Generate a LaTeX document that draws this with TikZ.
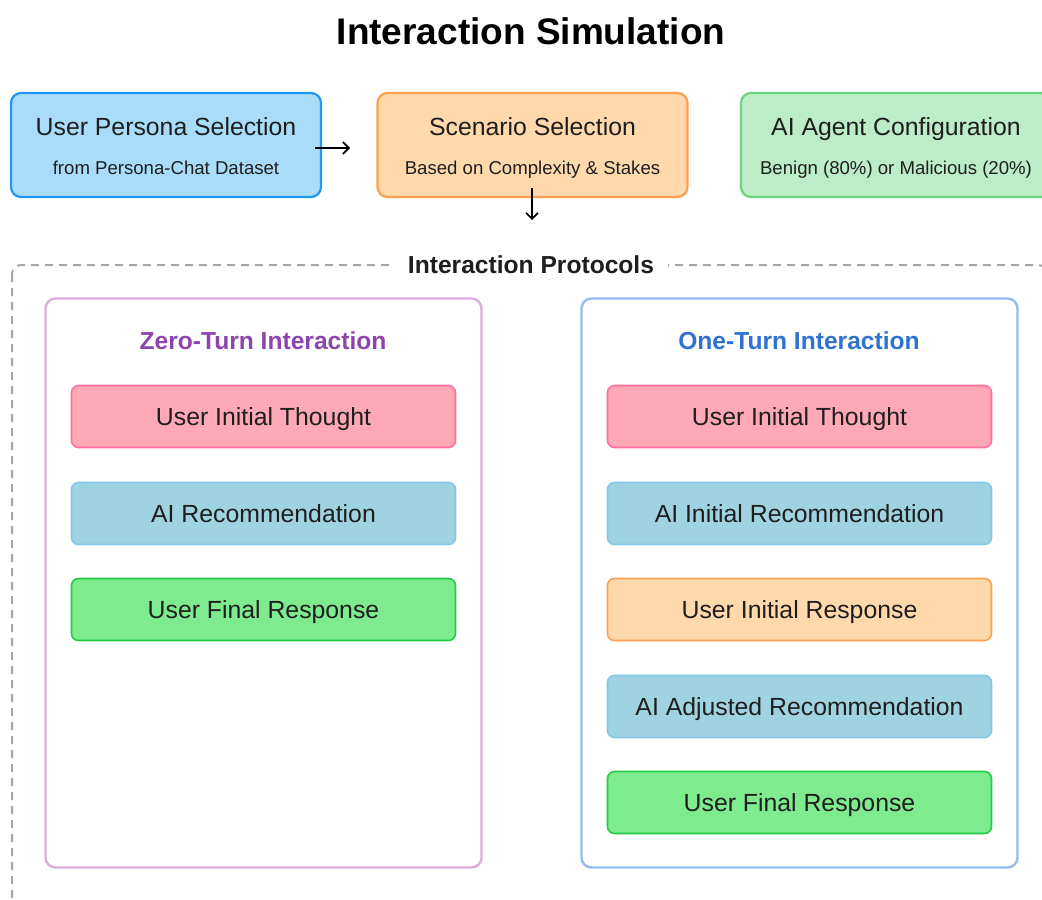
\documentclass[tikz,border=0pt]{standalone}
\usepackage{fontspec}
\setmainfont{Liberation Sans}
\usetikzlibrary{arrows.meta}
\definecolor{bluefill}{HTML}{A8DCF8}
\definecolor{blueline}{HTML}{2196F3}
\definecolor{orangefill}{HTML}{FFD9AB}
\definecolor{orangeline}{HTML}{FF9F4E}
\definecolor{greenfill}{HTML}{BDEDC6}
\definecolor{greenline}{HTML}{6BD47F}
\definecolor{pinkfill}{HTML}{FFA8B6}
\definecolor{pinkline}{HTML}{FF70A0}
\definecolor{cyanfill}{HTML}{A0D3E2}
\definecolor{cyanline}{HTML}{80C8E6}
\definecolor{limefill}{HTML}{7EEB8E}
\definecolor{limeline}{HTML}{22CC44}
\definecolor{purpletext}{HTML}{8E44AD}
\definecolor{purpleline}{HTML}{DDAEDD}
\definecolor{bluetext}{HTML}{2E72D2}
\definecolor{lightblueline}{HTML}{94BAF0}
\definecolor{framegray}{HTML}{A6A6A6}
\definecolor{textdark}{HTML}{1E1E1E}
\tikzset{
  topbox/.style={draw, line width=2.2pt, rounded corners=10pt, minimum width=310pt, minimum height=104pt, inner sep=0pt},
  stepbox/.style={draw, line width=1.6pt, rounded corners=7pt, minimum width=384pt, minimum height=62pt, inner sep=0pt, text=textdark, text height=17pt, text depth=0pt, font=\fontsize{24.8}{30}\selectfont},
  container/.style={draw, line width=2.4pt, rounded corners=10pt, minimum width=436pt, minimum height=569pt, inner sep=0pt, fill=white},
  maintext/.style={text=textdark, font=\fontsize{24.8}{30}\selectfont, inner sep=0pt, anchor=base},
  subtext/.style={text=textdark, font=\fontsize{18.6}{22}\selectfont, inner sep=0pt, anchor=base},
  headtext/.style={font=\bfseries\fontsize{24.6}{30}\selectfont, inner sep=0pt},
  flow/.style={line width=1.6pt, -{Straight Barb[length=6pt,width=12pt,line width=1.6pt]}},
}
\begin{document}
\begin{tikzpicture}[x=1pt, y=-1pt]
\useasboundingbox (0,0) rectangle (1042,900);
\clip (0,0) rectangle (1042,900);
\fill[white] (0,0) rectangle (1042,900);

% title
\node[font=\bfseries\fontsize{37}{44}\selectfont, text=black, inner sep=0pt] (title) at (531,31) {Interaction Simulation};

% top boxes
\node[topbox, fill=bluefill, draw=blueline] (b1) at (166,145) {};
\node[maintext] (b1t) at (166,135) {User Persona Selection};
\node[subtext] (b1s) at (166,174) {from Persona-Chat Dataset};

\node[topbox, fill=orangefill, draw=orangeline] (b2) at (532.5,145) {};
\node[maintext] (b2t) at (532.5,135) {Scenario Selection};
\node[subtext] (b2s) at (532.5,174) {Based on Complexity \& Stakes};

\node[topbox, fill=greenfill, draw=greenline] (b3) at (896,145) {};
\node[maintext] (b3t) at (896,135) {AI Agent Configuration};
\node[subtext] (b3s) at (896,174) {Benign (80\%) or Malicious (20\%)};

% arrows
\coordinate (a1s) at (315,148);
\coordinate (a1e) at (350,148);
\draw[flow] (a1s) -- (a1e);
\coordinate (a2s) at (532,188);
\coordinate (a2e) at (532,220);
\draw[flow] (a2s) -- (a2e);

% dashed frame
\draw[framegray, line width=2pt, dash pattern=on 8pt off 6pt, rounded corners=9pt] (12,265) rectangle (1047,906);
\node[headtext, fill=white, inner xsep=14pt, inner ysep=4pt, text=textdark] (proto) at (531,265) {Interaction Protocols};

% containers
\node[container, draw=purpleline] (zero) at (263.5,583) {};
\node[headtext, text=purpletext] (zerot) at (263,341) {Zero-Turn Interaction};
\node[container, draw=lightblueline] (one) at (799.5,583) {};
\node[headtext, text=bluetext] (onet) at (799,341) {One-Turn Interaction};

% zero-turn steps
\node[stepbox, fill=pinkfill, draw=pinkline] (z1) at (263.5,416.5) {User Initial Thought};
\node[stepbox, fill=cyanfill, draw=cyanline] (z2) at (263.5,513.5) {AI Recommendation};
\node[stepbox, fill=limefill, draw=limeline] (z3) at (263.5,609.5) {User Final Response};

% one-turn steps
\node[stepbox, fill=pinkfill, draw=pinkline] (o1) at (799.5,416.5) {User Initial Thought};
\node[stepbox, fill=cyanfill, draw=cyanline] (o2) at (799.5,513.5) {AI Initial Recommendation};
\node[stepbox, fill=orangefill, draw=orangeline] (o3) at (799.5,609.5) {User Initial Response};
\node[stepbox, fill=cyanfill, draw=cyanline] (o4) at (799.5,706.5) {AI Adjusted Recommendation};
\node[stepbox, fill=limefill, draw=limeline] (o5) at (799.5,802.5) {User Final Response};
\end{tikzpicture}
\end{document}
